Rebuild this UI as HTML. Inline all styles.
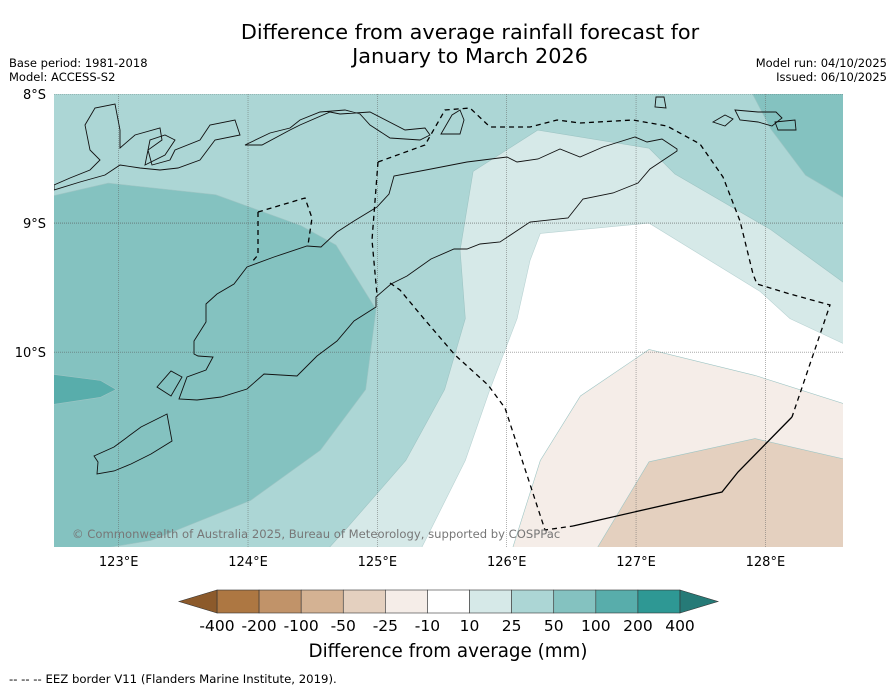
<!DOCTYPE html>
<html><head><meta charset="utf-8"><style>
body{margin:0;background:#fff;width:896px;height:690px;overflow:hidden;font-family:"DejaVu Sans","Liberation Sans",sans-serif}
svg{position:absolute;left:0;top:0}
</style></head><body>
<svg id="chart" width="896" height="690" viewBox="0 0 896 690" xmlns="http://www.w3.org/2000/svg">
<text x="470" y="39" text-anchor="middle" font-size="20.8" fill="#000">Difference from average rainfall forecast for</text>
<text x="470" y="63" text-anchor="middle" font-size="20.8" fill="#000">January to March 2026</text>
<text x="9" y="67" font-size="11.5">Base period: 1981-2018</text>
<text x="9" y="81" font-size="11.5">Model: ACCESS-S2</text>
<text x="887" y="67" font-size="11.5" text-anchor="end">Model run: 04/10/2025</text>
<text x="887" y="81" font-size="11.5" text-anchor="end">Issued: 06/10/2025</text>
<defs><clipPath id="mapclip"><rect x="54" y="94" width="789" height="453"/></clipPath></defs>
<g id="map" clip-path="url(#mapclip)"></g>
<g id="axes"></g>
<g id="cbar"></g>
<text x="448" y="657" text-anchor="middle" font-size="18.3">Difference from average (mm)</text>
<text x="9" y="683" font-size="11.7">--  --  -- EEZ border V11 (Flanders Marine Institute, 2019).</text>
</svg>
<script>
const NS="http://www.w3.org/2000/svg";
// map extent
const lonMin=122.5, lonMax=128.6, latTop=-8.0, latBot=-11.51;
const lonTicks=[123,124,125,126,127,128];
const latTicks=[-8,-9,-10];
const latTickLabels=["8°S","9°S","10°S"];
const lonTickLabels=["123°E","124°E","125°E","126°E","127°E","128°E"];
// contour levels (mm)
const levels=[-400,-200,-100,-50,-25,-10,10,25,50,100,200,400];
const levelColors=["#ad7742","#c19369","#d4b293","#e4d0bf","#f5ede8","#ffffff","#d6e9e8","#acd6d5","#84c2c0","#58adab","#2e9894"];
const extColors=["#8c5a2b","#267a77"];
// contour region polygons [lon, lat]
const regionBase={cls:7,pts:[[122.4,-7.9],[128.7,-7.9],[128.7,-11.6],[122.4,-11.6]]};
const region50W={cls:8,pts:[[122.4,-8.81],[122.92,-8.69],[123.75,-8.78],[124.41,-9.02],[124.68,-9.17],[124.99,-9.67],[124.91,-10.29],[124.56,-10.76],[124.02,-11.15],[123.25,-11.46],[122.4,-11.6]]};
const region50E={cls:8,pts:[[127.85,-7.9],[128.7,-7.9],[128.7,-8.86],[128.31,-8.63],[128.04,-8.27],[127.9,-8.0]]};
const region100={cls:9,pts:[[122.4,-10.16],[122.86,-10.22],[122.98,-10.29],[122.86,-10.35],[122.4,-10.42]]};
const region10={cls:6,pts:[[125.74,-8.60],[126.02,-8.42],[126.24,-8.28],[127.10,-8.42],[127.30,-8.62],[128.04,-9.05],[128.7,-9.53],[128.7,-11.6],[124.55,-11.6],[124.75,-11.38],[125.22,-10.84],[125.52,-10.29],[125.68,-9.74],[125.64,-9.21]]};
const regionWhite={cls:5,pts:[[126.18,-9.29],[126.26,-9.08],[127.10,-9.00],[127.96,-9.53],[128.19,-9.74],[128.7,-9.98],[128.7,-11.6],[125.30,-11.6],[125.41,-11.38],[125.68,-10.84],[125.87,-10.29],[126.08,-9.74]]};
const regionM25={cls:4,pts:[[126.02,-11.6],[126.26,-10.84],[126.57,-10.34],[127.10,-9.98],[127.92,-10.18],[128.7,-10.43],[128.7,-11.6]]};
const regionM50={cls:3,pts:[[126.65,-11.6],[127.10,-10.85],[127.92,-10.67],[128.7,-10.85],[128.7,-11.6]]};
const regions=[regionBase,region50W,region50E,region100,region10,regionWhite,regionM25,regionM50];

function xScale(lon){return 54+(lon-lonMin)/(lonMax-lonMin)*789;}
function yScale(lat){return 94+(latTop-lat)/(latTop-latBot)*453;}
const map=document.getElementById('map');
regions.forEach((r,i)=>{
  const p=document.createElementNS(NS,'polygon');
  p.setAttribute('points',r.pts.map(q=>xScale(q[0]).toFixed(1)+','+yScale(q[1]).toFixed(1)).join(' '));
  p.setAttribute('fill',levelColors[r.cls]);
  p.setAttribute('stroke',r.cls===5?'#b9d3d3':'#9ec5c4');p.setAttribute('stroke-width','0.6');
  
  
  map.appendChild(p);
});
// gridlines
const ax=document.getElementById('axes');
lonTicks.forEach((lon,i)=>{
  const l=document.createElementNS(NS,'line');
  l.setAttribute('x1',xScale(lon));l.setAttribute('x2',xScale(lon));l.setAttribute('y1',94);l.setAttribute('y2',547);
  l.setAttribute('stroke','#666');l.setAttribute('stroke-width','0.5');l.setAttribute('stroke-dasharray','1,1');
  
  
  map.appendChild(l);
  const t=document.createElementNS(NS,'text');
  t.setAttribute('x',xScale(lon));t.setAttribute('y',566);t.setAttribute('text-anchor','middle');t.setAttribute('font-size','13');
  t.textContent=lonTickLabels[i];
  
  
  ax.appendChild(t);
});
latTicks.forEach((lat,i)=>{
  const l=document.createElementNS(NS,'line');
  l.setAttribute('x1',54);l.setAttribute('x2',843);l.setAttribute('y1',yScale(lat));l.setAttribute('y2',yScale(lat));
  l.setAttribute('stroke','#555');l.setAttribute('stroke-width','0.6');l.setAttribute('stroke-dasharray','1,1');
  
  
  map.appendChild(l);
  const t=document.createElementNS(NS,'text');
  t.setAttribute('x',46);t.setAttribute('y',yScale(lat)+5);t.setAttribute('text-anchor','end');t.setAttribute('font-size','13');
  t.textContent=latTickLabels[i];
  
  
  ax.appendChild(t);
});
// coastlines (decorative outlines)
const coasts=[
"M194,354 L198,356 L213,357 L206,370 L187,377 L179,399 L197,400 L221,397 L247,389 L264,374 L297,376 L317,356 L337,341 L354,321 L376,307 L376,297 L391,284 L407,276 L431,259 L454,249 L467,249 L480,244 L500,242 L530,222 L568,218 L583,199 L613,193 L638,183 L650,169 L677,151 L677,149 L662,139 L647,142 L635,137 L603,147 L580,157 L560,149 L538,159 L517,162 L507,157 L467,162 L431,169 L394,176 L389,194 L377,207 L354,221 L337,232 L321,247 L307,246 L274,257 L247,267 L234,284 L217,294 L206,304 L206,322 L194,341 Z",
"M94,456 L114,447 L141,427 L167,414 L172,441 L151,454 L131,464 L114,471 L97,474 L98,462 Z",
"M157,387 L171,371 L182,377 L171,396 Z",
"M54,185 L70,178 L90,170 L100,160 L90,150 L85,125 L95,108 L115,104 L120,130 L120,148 L135,135 L160,128 L162,140 L148,150 L152,165 L170,160 L175,150 L200,140 L210,125 L235,120 L240,135 L215,140 L200,160 L178,168 L160,170 L140,168 L120,165 L105,175 L80,182 L54,190 Z",
"M145,165 L165,155 L175,140 L165,135 L150,140 Z",
"M245,145 L270,133 L290,128 L300,120 L320,112 L345,110 L360,114 L370,125 L390,138 L420,140 L430,135 L425,128 L405,130 L370,112 L340,114 L330,112 L300,125 L290,130 L262,145 Z",
"M441,134 L452,115 L460,110 L464,120 L460,134 Z",
"M655,107 L656,97 L664,97 L666,108 Z",
"M713,122 L725,115 L733,119 L725,126 Z",
"M735,110 L758,112 L776,112 L782,118 L772,126 L758,122 L740,120 Z",
"M775,122 L795,120 L796,130 L778,130 Z"];
coasts.forEach(d=>{
  const p=document.createElementNS(NS,'path');p.setAttribute('d',d);
  p.setAttribute('fill','none');p.setAttribute('stroke','#111');p.setAttribute('stroke-width','0.9');
  
  
  map.appendChild(p);
});
const eez=[
"M258,212 L258,255 L251,263 M258,212 L305,198 L312,218 L308,245",
"M378,162 L425,145 L445,110 L470,108 L490,127 L530,127 L557,120 L580,123 L633,120 L667,126 L700,144 L723,177 L740,221 L753,274 L757,284 L790,294 L830,305 L792,417",
"M390,283 L400,290 L425,320 L455,355 L488,385 L505,408 L545,530 L573,526",
"M378,162 L372,240 L377,295"];
eez.forEach(d=>{
  const p=document.createElementNS(NS,'path');p.setAttribute('d',d);
  p.setAttribute('fill','none');p.setAttribute('stroke','#000');p.setAttribute('stroke-width','1.3');p.setAttribute('stroke-dasharray','5,4');
  
  
  map.appendChild(p);
});
const sol=document.createElementNS(NS,'path');
sol.setAttribute('d','M573,526 L722,492 L738,472 L792,417');sol.setAttribute('fill','none');sol.setAttribute('stroke','#000');sol.setAttribute('stroke-width','1.3');


map.appendChild(sol);
const cp=document.createElementNS(NS,'text');
cp.setAttribute('x',72);cp.setAttribute('y',538);cp.setAttribute('font-size','11.6');cp.setAttribute('fill','#777');
cp.textContent='© Commonwealth of Australia 2025, Bureau of Meteorology, supported by COSPPac';


map.appendChild(cp);
// colorbar
const cb=document.getElementById('cbar');
const cbX0=217,cbX1=680,cbY=590,cbH=23,segW=(cbX1-cbX0)/levelColors.length;
levelColors.forEach((c,i)=>{
  const r=document.createElementNS(NS,'rect');
  r.setAttribute('x',cbX0+i*segW);r.setAttribute('y',cbY);r.setAttribute('width',segW);r.setAttribute('height',cbH);
  r.setAttribute('fill',c);r.setAttribute('stroke','#333');r.setAttribute('stroke-width','0.6');
  
  
  cb.appendChild(r);
});
const tl=document.createElementNS(NS,'polygon');
tl.setAttribute('points',`${cbX0},${cbY} ${cbX0-38},${cbY+cbH/2} ${cbX0},${cbY+cbH}`);tl.setAttribute('fill',extColors[0]);tl.setAttribute('stroke','#333');tl.setAttribute('stroke-width','0.6');


cb.appendChild(tl);
const tr=document.createElementNS(NS,'polygon');
tr.setAttribute('points',`${cbX1},${cbY} ${cbX1+38},${cbY+cbH/2} ${cbX1},${cbY+cbH}`);tr.setAttribute('fill',extColors[1]);tr.setAttribute('stroke','#333');tr.setAttribute('stroke-width','0.6');


cb.appendChild(tr);
levels.forEach((v,i)=>{
  const t=document.createElementNS(NS,'text');
  t.setAttribute('x',cbX0+i*segW);t.setAttribute('y',631);t.setAttribute('text-anchor','middle');t.setAttribute('font-size','15.5');
  t.textContent=v;
  
  
  cb.appendChild(t);
});
</script>
</body></html>
